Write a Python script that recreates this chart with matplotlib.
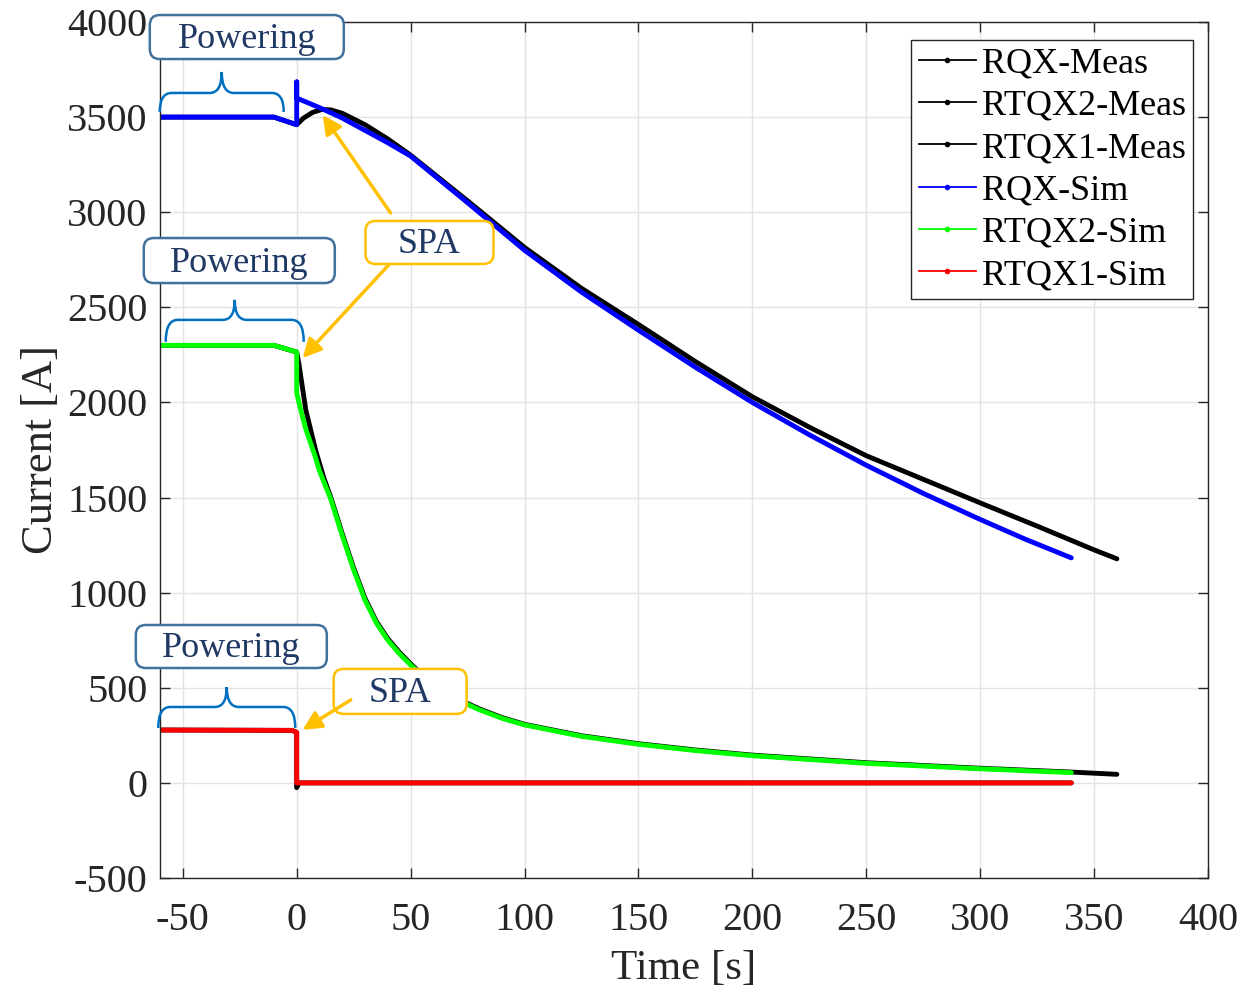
import numpy as np
import matplotlib
matplotlib.use("Agg")
import matplotlib.pyplot as plt
from matplotlib.patches import FancyBboxPatch, PathPatch
from matplotlib.path import Path
from matplotlib.transforms import ScaledTranslation
from matplotlib.lines import Line2D

plt.rcParams['font.family'] = ['Liberation Serif', 'DejaVu Serif']
plt.rcParams['axes.unicode_minus'] = False

# ---- data ----
t_rqx_meas = [-60, -10, 0, 3, 7, 11, 15, 20, 30, 40, 50, 75, 100, 125, 150, 175,
              200, 225, 250, 275, 300, 325, 350, 360]
i_rqx_meas = [3500, 3500, 3460, 3495, 3525, 3540, 3538, 3520, 3460, 3385, 3300, 3060,
              2815, 2600, 2410, 2215, 2030, 1870, 1720, 1596, 1472, 1350, 1225, 1178]

t_rtqx2_meas = [-60, -10, 0, 1, 4, 8.5, 12, 15, 20, 25, 30, 35, 40, 45, 50, 59, 70, 80,
                90, 100, 125, 150, 175, 200, 250, 300, 340, 360]
i_rtqx2_meas = [2300, 2300, 2265, 2200, 1960, 1740, 1600, 1500, 1310, 1130, 970, 848,
                758, 688, 626, 525, 445, 390, 344, 308, 248, 206, 173, 146, 106, 77, 57, 45]

t_rtqx1_meas = [-60, -2, 0, 0, 1, 340]
i_rtqx1_meas = [278, 276, 265, -25, 0, 0]

t_rqx_sim = [-60, -10, 0, 0, 0, 2, 10, 20, 30, 40, 50, 75, 100, 125, 150, 175, 200,
             225, 250, 275, 300, 320, 340]
i_rqx_sim = [3500, 3500, 3460, 3685, 3600, 3590, 3550, 3495, 3430, 3365, 3295, 3050,
             2800, 2580, 2380, 2185, 2000, 1830, 1670, 1522, 1385, 1280, 1183]

t_rtqx2_sim = [-60, -10, 0, 0, 2, 4, 6, 8, 10, 12, 15, 20, 25, 30, 35, 40, 45, 50, 59,
               70, 80, 90, 100, 125, 150, 175, 200, 250, 300, 340]
i_rtqx2_sim = [2300, 2300, 2265, 2050, 1950, 1860, 1790, 1720, 1640, 1580, 1490, 1300,
               1120, 960, 840, 750, 680, 620, 520, 440, 385, 340, 305, 245, 203, 170, 143,
               103, 74, 54]

t_rtqx1_sim = [-60, -2, 0, 0, 340]
i_rtqx1_sim = [278, 276, 265, 0, 0]

labels = ['RQX-Meas', 'RTQX2-Meas', 'RTQX1-Meas', 'RQX-Sim', 'RTQX2-Sim', 'RTQX1-Sim']
colors = ['black', 'black', 'black', 'blue', '#00FF00', 'red']

fig = plt.figure(figsize=(12.46, 9.93), dpi=100)
ax = fig.add_axes([160 / 1246, 1 - 878 / 993, 1048 / 1246, 856 / 993])

series = [(t_rqx_meas, i_rqx_meas), (t_rtqx2_meas, i_rtqx2_meas), (t_rtqx1_meas, i_rtqx1_meas),
          (t_rqx_sim, i_rqx_sim), (t_rtqx2_sim, i_rtqx2_sim), (t_rtqx1_sim, i_rtqx1_sim)]
for (t, i), c in zip(series, colors):
    ax.plot(t, i, color=c, lw=3.5, solid_capstyle='round', solid_joinstyle='round')

ax.set_xlim(-60, 400)
ax.set_ylim(-500, 4000)
ax.set_xticks(np.arange(-50, 401, 50))
ax.set_yticks(np.arange(-500, 4001, 500))
ax.grid(True, color='#E3E3E3', lw=1)
ax.set_axisbelow(True)
ax.tick_params(direction='in', length=7, width=1, top=True, right=True,
               labelsize=29, colors='#262626', pad=9)
ax.tick_params(axis='x', pad=17)
for s in ax.spines.values():
    s.set_color('#262626')
    s.set_linewidth(1)
ax.set_xlabel('Time [s]', fontsize=31, color='#262626', labelpad=8)
ax.set_ylabel('Current [A]', fontsize=32, color='#262626', labelpad=4)

handles = [Line2D([], [], color=c, lw=1.3, marker='.', markersize=6) for c in colors]
leg = ax.legend(handles, labels, loc='upper right', fontsize=26,
                bbox_to_anchor=(1193 / 1246, 1 - 40 / 993), bbox_transform=fig.transFigure,
                borderaxespad=0, fancybox=False, framealpha=1, edgecolor='#262626',
                handlelength=1.6, handletextpad=0.15, labelspacing=0.25, borderpad=0.2)
leg.get_frame().set_linewidth(1)

navy = '#1F3864'


def anchor(x, y):
    return fig.dpi_scale_trans + ScaledTranslation(x, y, ax.transData)


def label_box(x, y, text, w, h, edge):
    box = FancyBboxPatch((-w / 2, -h / 2), w, h, boxstyle='round,pad=0,rounding_size=0.1',
                         transform=anchor(x, y), fc='white', ec=edge, lw=1.8, zorder=5,
                         clip_on=False)
    ax.add_patch(box)
    ax.text(0, -0.11, text, fontsize=26, color=navy, ha='center', va='baseline', zorder=6,
            transform=anchor(x, y), clip_on=False)


def brace(x, y, w, down, up):
    r = 0.12
    hw = w / 2
    verts = [(-hw, -down), (-hw, 0), (-hw + r, 0),
             (-r, 0), (0, 0), (0, up),
             (0, up), (0, 0), (r, 0),
             (hw - r, 0), (hw, 0), (hw, -down)]
    codes = [Path.MOVETO, Path.CURVE3, Path.CURVE3,
             Path.LINETO, Path.CURVE3, Path.CURVE3,
             Path.MOVETO, Path.CURVE3, Path.CURVE3,
             Path.LINETO, Path.CURVE3, Path.CURVE3]
    p = PathPatch(Path(verts, codes), transform=anchor(x, y), fc='none',
                  ec='#0070C0', lw=1.8, zorder=5, clip_on=False)
    ax.add_patch(p)


def arrow(x0, y0, x1, y1):
    ax.annotate('', xy=(x1, y1), xytext=(x0, y0),
                arrowprops=dict(arrowstyle='-|>', color='#FFC000', lw=2.5,
                                mutation_scale=28, shrinkA=0, shrinkB=0), zorder=6)


label_box(-21.9, 3921, 'Powering', 1.94, 0.44, '#41719C')
label_box(-25.2, 2746, 'Powering', 1.91, 0.45, '#41719C')
label_box(-28.7, 717, 'Powering', 1.91, 0.43, '#41719C')
brace(-32.9, 3627, 1.24, 0.19, 0.21)
brace(-27.2, 2434, 1.38, 0.22, 0.20)
brace(-30.7, 399, 1.37, 0.21, 0.20)

arrow(41.2, 2996, 11.4, 3511)
arrow(40.4, 2723, 2.6, 2234)
arrow(23.7, 436, 2.6, 279)
label_box(58.3, 2841, 'SPA', 1.28, 0.43, '#FFC000')
label_box(45.4, 481, 'SPA', 1.33, 0.45, '#FFC000')

fig.savefig('out.png', dpi=100)
